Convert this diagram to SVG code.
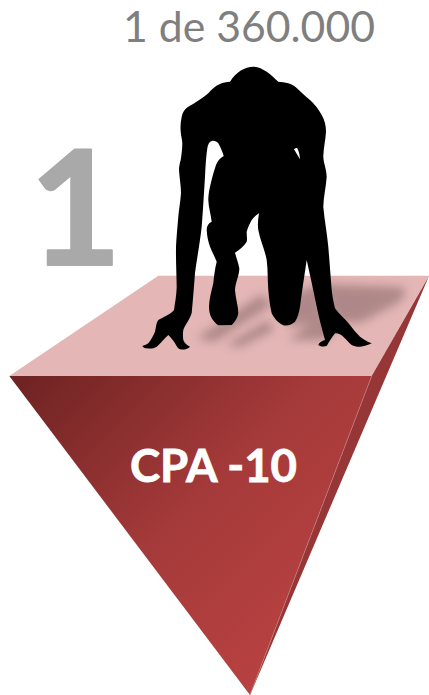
<svg xmlns="http://www.w3.org/2000/svg" width="429" height="695" viewBox="0 0 429 695">
<style>
.t{font-family:"Lato","Open Sans","Liberation Sans",sans-serif}
.s{fill:#7a5c5c}
</style>
<defs>
<linearGradient id="front" gradientUnits="userSpaceOnUse" x1="30" y1="370" x2="300" y2="640">
<stop offset="0" stop-color="#702323"/><stop offset=".55" stop-color="#a53a3a"/><stop offset="1" stop-color="#b84141"/>
</linearGradient>
<filter id="blur" x="-30%" y="-50%" width="160%" height="200%"><feGaussianBlur stdDeviation="5"/></filter>
</defs>
<rect width="429" height="695" fill="#fff"/>
<text class="t" x="123" y="42" font-size="42" fill="#7f7f7f" textLength="252" lengthAdjust="spacingAndGlyphs">1 de 360.000</text>
<text class="t" x="29" y="265" font-weight="700" font-size="160" fill="#a9a9a9" stroke="#a9a9a9" stroke-width="2" stroke-linejoin="round">1</text>
<g id="platform">
<polygon points="158.3,275.7 429,275.7 371.7,376 9.3,376" fill="#e4b6b6"/>
<polygon points="429,276 371.7,376 250,695" fill="#963636"/>
<polygon points="9.3,376 371.7,376 250,695" fill="url(#front)"/>
<line x1="371.7" y1="376" x2="250" y2="695" stroke="#c98080" stroke-width=".6"/>
</g>
<g id="shadow" filter="url(#blur)" opacity=".5">
<path class="s" d="M322,284 L402,287 Q410,294 396,304 L362,322 Q345,326 330,314 Z"/>
<path class="s" d="M197,338 L262,294 L270,306 L214,342 Z"/>
<path class="s" d="M226,345 L268,320 L274,330 L240,347 Z"/>
<path class="s" d="M288,340 L320,316 L345,320 L325,340 Z"/>
<path class="s" d="M270,300 L320,285 L325,320 L290,327 Z"/>
</g>
<g id="runner">
<path fill="#000" fill-rule="evenodd" d="M253.3,66.7 C245,66.7 236,72 230,81.7 C226,82 223,82.5 220,84 C215,86 211,90 208.3,93.3 C203,98 195,103 188.3,106.7 C185,109 182.5,112 181.7,116.7 C180.5,122 180.3,127 180.7,131.7 C181,136 182.3,140 182.3,143.3 C182.3,149 181.5,155 180.7,160 C179.5,164 179,167 179,170 C179.5,178 181,186 181,193 C180.5,201 179,209 178.3,216.7 C177.5,226 176.5,237 176,246.7 C175.8,260 176.5,274 176.7,286.7 C176.5,295 175,303 174,310 C170,315 163,317 158.3,320 C156,323 156,328 155,331.7 C153,336 151,340 148.3,343.3 C146,345 144,345.5 142.3,346 C143,347.5 145,348.3 146.7,348.3 C150,348.8 154,348.5 156.7,346.7 C161,343 165,338 168.3,335 C171,338 173,340 175,343.3 C176.5,346 178,349 180,349.3 C184,350 188,349 190,346.7 C187,345.5 184.5,343 183.3,340 C182.8,337 182.8,333 183.3,330 C185,325 190,319 191.7,313 C193,300 194,286 195,273 C197,258 200,242 201.7,226.7 C203,210 204,193 205,176.7 C205.5,167 206,157 207.3,148.3 C208,144 209.5,141.5 211.7,141 C214,140.5 217,141.5 218.3,143.3 C220.5,147 222.5,152 223.7,156 C220,158 217.5,161 216,165 C213.5,172 211.5,180 210,186.7 C209,191 208.3,196 208.3,200 C208.5,207 211,215 211.7,221.7 C208.5,223 206.7,226 206.7,230 C207,236 208,241 210,246.7 C212,252 215,257 216.7,261.7 C215,268 214,276 213.3,283.3 C211.5,291 209.2,299 209,306.7 C209,311 210,315 211.7,318.3 C213.5,321 216,324 218.3,325.3 L231.7,325 C235,322 237.5,318 238.3,313.3 C238.3,306 235.5,298 235,290 C235.5,282 239.5,275 239.3,268.3 C238.5,263 236,257 235,252.7 C239,250 244,246.5 246.7,241.7 C247.5,238 246.5,235 246.7,231.7 C248,227 250,223 251.7,220 C254,217 256.5,215 259,213.3 C258,219 257.5,225 258.3,230 C260,240 265,250 266.7,260 C268,270 267.5,280 268.3,290 C269,298 270,306 271.7,313.3 C274,318 278,323 283.3,325.3 C288,326 292,324.5 295,321.7 C298,317 299,312 300,306.7 C302,291 304.5,275 306.7,260 C310,275 313.5,291 316.7,306.7 C319,318 322,329 325,340 C322,341 319,342.5 318.3,345 C321,346.8 324,346.8 326.7,346 C329,342 332,337 335,333.3 C338,333 341,334.5 343.3,336.7 C346,339 349,343 351.7,345 C354,346.5 357,346.8 360,346.7 C364,346.5 368,345 371.7,343.3 C367,341.5 363,339 360,336.7 C356,333 353,329 350,325 C345,319 339,314 335,308.3 C333.5,302 332.3,296 331.7,290 C330.5,275 329.5,261 328.3,246.7 C327,233 324.5,220 323.3,206.7 C323.5,197 326,187 326.7,176.7 C326.5,169 323.5,163 323.3,156.7 C323.5,148 325.5,140 326,131.7 C326,125 324.5,120 321.7,115 C318.5,109 314.5,104 310,100 C305,96 301,92 296.7,88 C294,85.5 291,84 288.3,83.3 C285,82.5 281.5,82 278.3,81.7 C274.5,78.5 271,74.5 266.7,71.7 C262.5,69 258,66.7 253.3,66.7 Z M294,149.3 C295,148.5 296.5,147.5 297.3,148.3 C299,151.5 299.8,155.5 300,159.3 C298,156 296,152.5 294,149.3 Z"/>
</g>
<text class="t" x="130" y="482" font-size="46" font-weight="700" fill="#fff" stroke="#fff" stroke-width=".8" textLength="167" lengthAdjust="spacingAndGlyphs">CPA -10</text>
</svg>
